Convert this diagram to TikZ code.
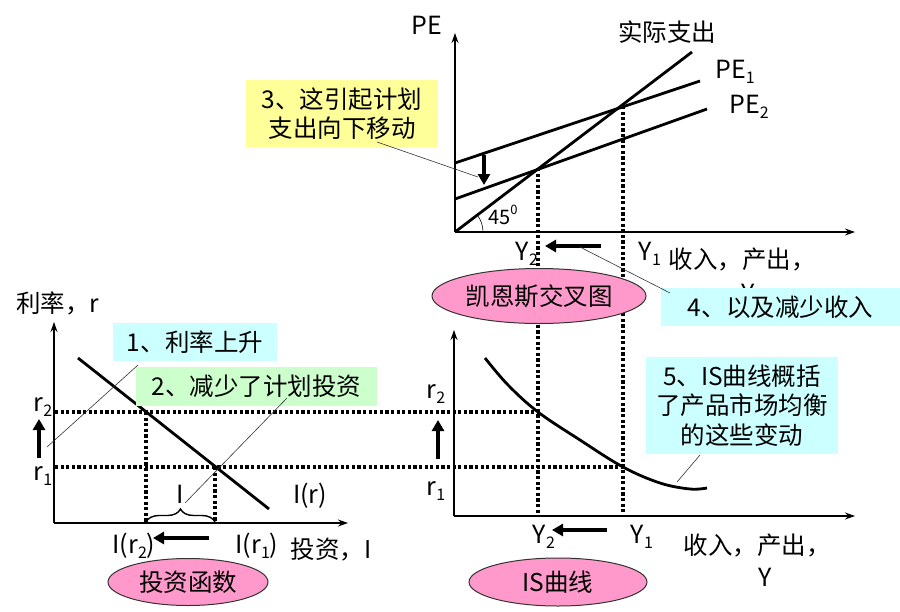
\documentclass[tikz,border=0pt]{standalone}
\usepackage{fontspec}
\setmainfont{Noto Sans CJK SC}
\usetikzlibrary{arrows.meta,decorations.pathreplacing,shapes.geometric}
\newcommand\lowsub[1]{\raisebox{-0.35ex}{\fontsize{16}{16}\selectfont #1}}
\definecolor{pinkfill}{HTML}{FF99CC}
\definecolor{yelbox}{HTML}{FFFF99}
\definecolor{cyanbox}{HTML}{CCFFFF}
\definecolor{greenbox}{HTML}{CCFFCC}
\begin{document}
\begin{tikzpicture}[x=1pt,y=-1pt,
  axis/.style={line width=1.3pt,-{Stealth[length=10pt,width=7pt]}},
  curveline/.style={line width=2.8pt},
  dotline/.style={line width=3.4pt,line cap=butt,dash pattern=on 3.2pt off 2.4pt},
  bigarrow/.style={line width=3.4pt,-{Triangle[length=11pt,width=12pt]}},
  pointer/.style={line width=0.6pt,draw=black!80},
  lbl/.style={font=\fontsize{25}{28}\selectfont,inner sep=0pt},
  cjk/.style={font=\fontsize{24.5}{28}\selectfont,inner sep=0pt},
  notebox/.style={font=\fontsize{24.5}{29.5}\selectfont,align=center,inner sep=0pt},
  oval/.style={ellipse,draw=black!80,line width=1pt,fill=pinkfill,inner sep=0pt,font=\fontsize{24.5}{28}\selectfont}
]
\useasboundingbox (0,0) rectangle (900,611);

% ---------- top panel: Keynesian cross ----------
\coordinate (O1) at (455,232);
\coordinate (PEtop) at (455,33);
\coordinate (X1end) at (855,232);
\draw[axis] (O1) -- (PEtop);
\draw[axis] (O1) -- (X1end);
\coordinate (A1) at (692,52);
\coordinate (PE1a) at (455,163);
\coordinate (PE1b) at (700,81);
\coordinate (PE2a) at (455,199);
\coordinate (PE2b) at (707,109);
\coordinate (E1) at (623,106);
\coordinate (E2) at (538,168);
\coordinate (E1low) at (623,516);
\coordinate (E2low) at (538,516);
\draw[dotline] (E1) -- (E1low);
\draw[dotline] (E2) -- (E2low);
\draw[curveline] (O1) -- (A1);
\draw[curveline] (PE1a) -- (PE1b);
\draw[curveline] (PE2a) -- (PE2b);
\draw[line width=0.6pt] (483,232) arc[start angle=0,end angle=37,radius=28pt];
\coordinate (D3a) at (484,155);
\coordinate (D3b) at (484,185);
\draw[bigarrow] (D3a) -- (D3b);
\coordinate (L4a) at (601,246);
\coordinate (L4b) at (545,246);
\draw[bigarrow] (L4a) -- (L4b);

\node[lbl] (lPE) at (427,25) {PE};
\node[cjk] (lAE) at (667,32) {实际支出};
\node[lbl] (lPE1) at (735,72) {PE\lowsub{1}};
\node[lbl] (lPE2) at (749,107) {PE\lowsub{2}};
\node[font=\fontsize{20}{22}\selectfont,inner sep=0pt] (l45) at (503,215) {45\raisebox{0.9ex}{\fontsize{13}{13}\selectfont 0}};
\node[lbl] (lY2t) at (527,254) {Y\lowsub{2}};
\node[lbl] (lY1t) at (650,254) {Y\lowsub{1}};
\node[cjk] (lInct) at (742,260) {收入，产出，};
\node[lbl] (lYt) at (748,293) {Y};

% ---------- lower left: investment function ----------
\coordinate (O2) at (54,523);
\coordinate (Rtop) at (54,322);
\coordinate (X2end) at (348,523);
\draw[axis] (O2) -- (Rtop);
\draw[axis] (O2) -- (X2end);
\coordinate (R2s) at (55,412);
\coordinate (R1s) at (55,467);
\coordinate (R2e) at (538,412);
\coordinate (R1e) at (623,467);
\draw[dotline] (R2s) -- (R2e);
\draw[dotline] (R1s) -- (R1e);
\coordinate (Ia) at (146,412);
\coordinate (Iab) at (146,523);
\coordinate (Ib) at (215,467);
\coordinate (Ibb) at (215,523);
\draw[dotline] (Ia) -- (Iab);
\draw[dotline] (Ib) -- (Ibb);
\coordinate (IRa) at (78,358);
\coordinate (IRb) at (269,509);
\draw[curveline] (IRa) -- (IRb);
\coordinate (BrL) at (146,522);
\coordinate (BrR) at (215,522);
\draw[line width=1.4pt,decorate,decoration={brace,amplitude=13pt}] (BrL) -- (BrR);
\coordinate (U1a) at (39,458);
\coordinate (U1b) at (39,419);
\draw[bigarrow] (U1a) -- (U1b);
\coordinate (L2a) at (209,538);
\coordinate (L2b) at (153,538);
\draw[bigarrow] (L2a) -- (L2b);

\node[cjk] (lRate) at (58,303) {利率，r};
\node[lbl] (lr2a) at (43,407) {r\lowsub{2}};
\node[lbl] (lr1a) at (43,476) {r\lowsub{1}};
\node[lbl] (lI) at (180,494) {I};
\node[lbl] (lIr) at (310,496) {I(r)};
\node[lbl] (lIr2) at (134,546) {I(r\lowsub{2})};
\node[lbl] (lIr1) at (257,546) {I(r\lowsub{1})};
\node[cjk] (lInv) at (331,550) {投资，I};

% ---------- lower right: IS curve ----------
\coordinate (O3) at (454,516);
\coordinate (R3top) at (454,330);
\coordinate (X3end) at (855,516);
\draw[axis] (O3) -- (R3top);
\draw[axis] (O3) -- (X3end);
\draw[curveline] plot[smooth,tension=0.6] coordinates {(485,358) (508,385) (538,412) (580,440) (623,467) (660,483) (690,489) (707,488)};
\coordinate (U3a) at (438,459);
\coordinate (U3b) at (438,420);
\draw[bigarrow] (U3a) -- (U3b);
\coordinate (L5a) at (607,530);
\coordinate (L5b) at (552,530);
\draw[bigarrow] (L5a) -- (L5b);
\node[lbl] (lr2b) at (436,394) {r\lowsub{2}};
\node[lbl] (lr1b) at (436,491) {r\lowsub{1}};
\node[lbl] (lY2b) at (544,537) {Y\lowsub{2}};
\node[lbl] (lY1b) at (642,537) {Y\lowsub{1}};
\node[cjk] (lIncb) at (757,545) {收入，产出，};
\node[lbl] (lYb) at (765,577) {Y};

% ---------- boxes ----------
\node[notebox,fill=yelbox,minimum width=192pt,minimum height=67pt] (box3) at (342,113.5) {3、这引起计划\\支出向下移动};
\node[notebox,fill=cyanbox,minimum width=239pt,minimum height=38pt] (box4) at (780.5,307) {4、以及减少收入};
\node[notebox,fill=cyanbox,minimum width=164pt,minimum height=38pt] (box1) at (195,342) {1、利率上升};
\node[notebox,fill=greenbox,minimum width=241pt,minimum height=39pt] (box2) at (256.5,386.5) {2、减少了计划投资};
\node[notebox,fill=cyanbox,minimum width=192pt,minimum height=97pt] (box5) at (742,405.5) {5、IS曲线概括\\了产品市场均衡\\的这些变动};

% ---------- pointers ----------
\coordinate (p3a) at (377,142);
\coordinate (p3b) at (478,177);
\draw[pointer] (p3a) -- (p3b);
\coordinate (p4a) at (670,293);
\coordinate (p4b) at (580,247);
\draw[pointer] (p4a) -- (p4b);
\coordinate (p1a) at (138,365);
\coordinate (p1b) at (47,447);
\draw[pointer] (p1a) -- (p1b);
\coordinate (p2a) at (287,398);
\coordinate (p2b) at (185,503);
\draw[pointer] (p2a) -- (p2b);
\coordinate (p5a) at (700,455);
\coordinate (p5b) at (677,482);
\draw[pointer] (p5a) -- (p5b);

% ---------- ovals ----------
\node[oval,minimum width=214pt,minimum height=55pt] (ov1) at (539,296) {凯恩斯交叉图};
\node[oval,minimum width=160pt,minimum height=47pt] (ov2) at (188,582) {投资函数};
\node[oval,minimum width=178pt,minimum height=48pt] (ov3) at (558,582) {IS曲线};
\end{tikzpicture}
\end{document}
